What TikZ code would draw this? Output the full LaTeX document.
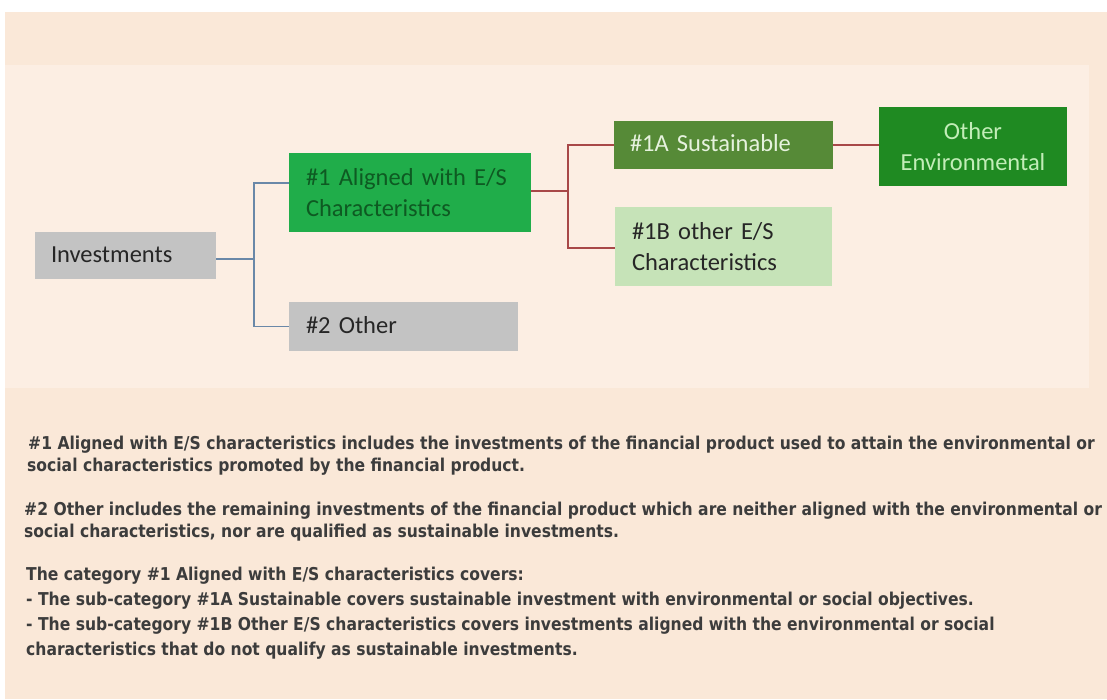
\documentclass[tikz,border=0pt]{standalone}
\usepackage{fontspec}
\newfontfamily\boxfont{Carlito}
\newfontfamily\notefont[FakeStretch=0.88]{DejaVu Sans}
\definecolor{outerbg}{HTML}{FAE8D8}
\definecolor{innerbg}{HTML}{FCEEE3}
\definecolor{graybox}{HTML}{C3C3C3}
\definecolor{alignfill}{HTML}{20AD4A}
\definecolor{aligntext}{HTML}{0E5A22}
\definecolor{susfill}{HTML}{568A37}
\definecolor{sustext}{HTML}{E6F2DE}
\definecolor{envfill}{HTML}{1F8A22}
\definecolor{envtext}{HTML}{C2EDB8}
\definecolor{otherfill}{HTML}{C6E3B8}
\definecolor{darktext}{HTML}{262626}
\definecolor{bluelink}{HTML}{6A88A8}
\definecolor{redlink}{HTML}{A84848}
\definecolor{notetext}{HTML}{3C3C3C}
\tikzset{
  box/.style={draw=none, inner xsep=16pt, inner ysep=0pt, anchor=center,
    font=\boxfont\fontsize{24.5}{31}\selectfont, align=left},
  oneline/.style={text height=17pt, text depth=4pt},
  bluelinkstyle/.style={draw=bluelink, line width=1.5pt},
  redlinkstyle/.style={draw=redlink, line width=1.5pt},
  noteline/.style={anchor=base west, inner sep=0pt, text=notetext,
    font=\notefont\bfseries\fontsize{17.7}{22}\selectfont}
}
\begin{document}
\begin{tikzpicture}[x=1pt,y=-1pt]
\useasboundingbox (0,0) rectangle (1107,699);
% backgrounds
\fill[white] (0,0) rectangle (1107,699);
\fill[outerbg] (5,12) rectangle (1107,699);
\fill[innerbg] (5,65) rectangle (1089,388);

% boxes
\node[box, oneline, fill=graybox, text=darktext, minimum width=181pt, minimum height=47pt, text width=149pt]
  (inv) at (125.5,255.5) {Investments};
\node[box, fill=alignfill, text=aligntext, minimum width=242pt, minimum height=79pt, text width=208pt, inner xsep=17pt]
  (al) at (410,192.5) {\#1 Aligned with E/S\\Characteristics};
\node[box, oneline, fill=graybox, text=darktext, minimum width=229pt, minimum height=49pt, text width=195pt, inner xsep=17pt]
  (oth) at (403.5,326.5) {\#2 Other};
\node[box, oneline, fill=susfill, text=sustext, minimum width=219pt, minimum height=48pt, text width=187pt]
  (sus) at (723.5,145) {\#1A Sustainable};
\node[box, fill=otherfill, text=darktext, minimum width=217pt, minimum height=79pt, text width=183pt, inner xsep=17pt]
  (oes) at (723.5,246.5) {\#1B other E/S\\Characteristics};
\node[box, fill=envfill, text=envtext, minimum width=188pt, minimum height=79pt, text width=160pt, inner xsep=14pt, align=center]
  (env) at (973,146.5) {Other\\Environmental};

% connectors
\coordinate (j1) at (254,259);
\coordinate (j2) at (568,191);
\draw[bluelinkstyle] (inv.east |- j1) -- (j1);
\draw[bluelinkstyle] (al.west |- 0,183) -| (j1) |- (oth.west);
\draw[redlinkstyle] (al.east |- j2) -- (j2);
\draw[redlinkstyle] (sus.west) -| (j2) |- (oes.west |- 0,248);
\draw[redlinkstyle] (sus.east) -- (env.west |- sus.east);

% notes
\node[noteline] (n1a) at (28,449) {\#1 Aligned with E/S characteristics includes the investments of the financial product used to attain the environmental or};
\node[noteline] (n1b) at (27,471) {social characteristics promoted by the financial product.};
\node[noteline] (n2a) at (24,515) {\#2 Other includes the remaining investments of the financial product which are neither aligned with the environmental or};
\node[noteline] (n2b) at (24,537) {social characteristics, nor are qualified as sustainable investments.};
\node[noteline] (n3a) at (26,580) {The category \#1 Aligned with E/S characteristics covers:};
\node[noteline] (n3b) at (26,605) {- The sub-category \#1A Sustainable covers sustainable investment with environmental or social objectives.};
\node[noteline] (n3c) at (26,630) {- The sub-category \#1B Other E/S characteristics covers investments aligned with the environmental or social};
\node[noteline] (n3d) at (26,655) {characteristics that do not qualify as sustainable investments.};
\end{tikzpicture}
\end{document}
